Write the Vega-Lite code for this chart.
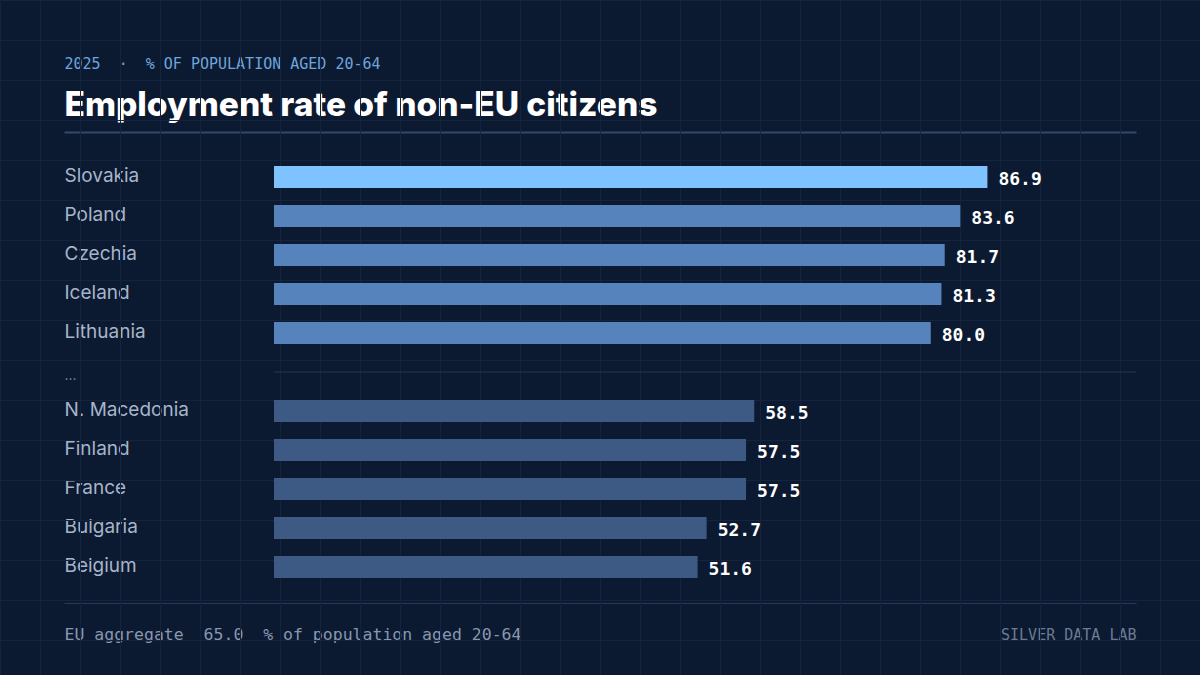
{
  "$schema": "https://vega.github.io/schema/vega-lite/v6.json",
  "width": 1072,
  "height": 471,
  "autosize": {"type": "none"},
  "padding": {"left": 64, "top": 132, "right": 64, "bottom": 72},
  "background": "#0c1a31",
  "config": {
    "view": {"stroke": null},
    "axis": {"grid": false, "labels": false, "ticks": false, "domain": false}
  },
  "datasets": {
    "rates": [
      {"country": "Slovakia", "rate": 86.9, "tier": "highest"},
      {"country": "Poland", "rate": 83.6, "tier": "top five"},
      {"country": "Czechia", "rate": 81.7, "tier": "top five"},
      {"country": "Iceland", "rate": 81.3, "tier": "top five"},
      {"country": "Lithuania", "rate": 80.0, "tier": "top five"},
      {"country": "N. Macedonia", "rate": 58.5, "tier": "bottom five"},
      {"country": "Finland", "rate": 57.5, "tier": "bottom five"},
      {"country": "France", "rate": 57.5, "tier": "bottom five"},
      {"country": "Bulgaria", "rate": 52.7, "tier": "bottom five"},
      {"country": "Belgium", "rate": 51.6, "tier": "bottom five"}
    ],
    "gridX": [
      {"gx": 0}, {"gx": 40}, {"gx": 80}, {"gx": 120}, {"gx": 160}, {"gx": 200}, {"gx": 240}, {"gx": 280},
      {"gx": 320}, {"gx": 360}, {"gx": 400}, {"gx": 440}, {"gx": 480}, {"gx": 520}, {"gx": 560}, {"gx": 600},
      {"gx": 640}, {"gx": 680}, {"gx": 720}, {"gx": 760}, {"gx": 800}, {"gx": 840}, {"gx": 880}, {"gx": 920},
      {"gx": 960}, {"gx": 1000}, {"gx": 1040}, {"gx": 1080}, {"gx": 1120}, {"gx": 1160}
    ],
    "gridY": [
      {"gy": 0}, {"gy": 40}, {"gy": 80}, {"gy": 120}, {"gy": 160}, {"gy": 200}, {"gy": 240}, {"gy": 280},
      {"gy": 320}, {"gy": 360}, {"gy": 400}, {"gy": 440}, {"gy": 480}, {"gy": 520}, {"gy": 560}, {"gy": 600},
      {"gy": 640}
    ]
  },
  "layer": [
    {
      "layer": [
        {
          "data": {"name": "gridX"},
          "mark": {"type": "rule", "color": "#15243e", "strokeWidth": 1},
          "encoding": {
            "x": {"field": "gx", "type": "quantitative", "scale": {"domain": [0, 1200], "range": [-63.5, 1136.5], "nice": false, "zero": false}, "axis": null},
            "y": {"datum": 0, "type": "quantitative", "scale": {"domain": [0, 675], "range": [-131.5, 543.5], "nice": false, "zero": false}, "axis": null},
            "y2": {"datum": 675}
          }
        },
        {
          "data": {"name": "gridY"},
          "mark": {"type": "rule", "color": "#15243e", "strokeWidth": 1},
          "encoding": {
            "y": {"field": "gy", "type": "quantitative", "axis": null},
            "x": {"datum": 0, "type": "quantitative", "axis": null},
            "x2": {"datum": 1200}
          }
        }
      ]
    },
    {
      "data": {"name": "rates"},
      "layer": [
        {
          "mark": {"type": "bar"},
          "encoding": {
            "y": {
              "field": "country",
              "type": "nominal",
              "scale": {
                "domain": ["Slovakia", "Poland", "Czechia", "Iceland", "Lithuania", "...", "N. Macedonia", "Finland", "France", "Bulgaria", "Belgium"],
                "paddingInner": 0.436,
                "paddingOuter": 0.757,
                "align": 0.576
              },
              "axis": {
                "orient": "left",
                "title": null,
                "labels": true,
                "domain": false,
                "ticks": false,
                "grid": false,
                "labelPadding": 0,
                "labelAlign": "left",
                "labelBaseline": "middle",
                "labelOffset": {"condition": {"test": "datum.value === '...'", "value": 4}, "value": -1},
                "labelLimit": 220,
                "labelFont": "Inter",
                "labelFontSize": {"condition": {"test": "datum.value === '...'", "value": 14}, "value": 19},
                "labelColor": {"condition": {"test": "datum.value === '...'", "value": "#7b8aa3"}, "value": "#a7b5ca"}
              }
            },
            "x": {
              "field": "rate",
              "type": "quantitative",
              "scale": {"domain": [-25.58, 105], "nice": false, "zero": false},
              "axis": {
                "orient": "bottom",
                "domain": true,
                "domainColor": "#263959",
                "domainWidth": 1,
                "labels": false,
                "ticks": false,
                "grid": false,
                "title": "EU aggregate\u00a0\u00a065.0\u00a0\u00a0% of population aged 20-64",
                "titleAnchor": "start",
                "titleAlign": "left",
                "titleBaseline": "middle",
                "titleFont": "DejaVu Sans Mono",
                "titleFontSize": 16.5,
                "titleFontWeight": "normal",
                "titleColor": "#8797b0",
                "titlePadding": 31
              }
            },
            "x2": {"datum": 0},
            "color": {
              "field": "tier",
              "type": "nominal",
              "scale": {"domain": ["highest", "top five", "bottom five"], "range": ["#7ec3ff", "#5783bd", "#3d5a84"]},
              "legend": null
            }
          }
        },
        {
          "mark": {"type": "text", "align": "left", "baseline": "middle", "dx": 11, "dy": 3, "font": "DejaVu Sans Mono", "fontSize": 18, "fontWeight": "bold", "color": "#ffffff"},
          "encoding": {
            "y": {"field": "country", "type": "nominal"},
            "x": {"field": "rate", "type": "quantitative"},
            "text": {"field": "rate", "type": "quantitative", "format": ".1f"}
          }
        },
        {
          "data": {"values": [{}]},
          "mark": {"type": "rule", "color": "#253757", "strokeWidth": 1},
          "encoding": {
            "y": {"datum": "..."},
            "x": {"datum": 0},
            "x2": {"datum": 105}
          }
        }
      ]
    },
    {
      "data": {"values": [{}]},
      "mark": {"type": "rule", "opacity": 0},
      "encoding": {
        "x": {
          "datum": 0,
          "type": "quantitative",
          "scale": {"domain": [0, 1], "nice": false},
          "axis": {
            "orient": "top",
            "domain": true,
            "domainColor": "#33496f",
            "domainWidth": 2,
            "labels": false,
            "ticks": false,
            "grid": false,
            "title": "Employment rate of non-EU citizens",
            "titleAnchor": "start",
            "titleAlign": "left",
            "titleBaseline": "alphabetic",
            "titleFont": "Inter",
            "titleFontSize": 33.5,
            "titleFontWeight": 800,
            "titleColor": "#ffffff",
            "titlePadding": 17
          }
        }
      }
    },
    {
      "data": {"values": [{}]},
      "mark": {"type": "rule", "opacity": 0},
      "encoding": {
        "x": {
          "datum": 0,
          "type": "quantitative",
          "scale": {"domain": [0, 1], "nice": false},
          "axis": {
            "orient": "top",
            "domain": false,
            "labels": false,
            "ticks": false,
            "grid": false,
            "title": "2025\u00a0\u00a0·\u00a0\u00a0% OF POPULATION AGED 20-64",
            "titleAnchor": "start",
            "titleAlign": "left",
            "titleBaseline": "middle",
            "titleFont": "DejaVu Sans Mono",
            "titleFontSize": 15,
            "titleFontWeight": "normal",
            "titleColor": "#6ea5dc",
            "titlePadding": 69
          }
        }
      }
    },
    {
      "data": {"values": [{}]},
      "mark": {"type": "rule", "opacity": 0},
      "encoding": {
        "x": {
          "datum": 0,
          "type": "quantitative",
          "scale": {"domain": [0, 1], "nice": false},
          "axis": {
            "orient": "bottom",
            "domain": false,
            "labels": false,
            "ticks": false,
            "grid": false,
            "title": "SILVER DATA LAB",
            "titleAnchor": "end",
            "titleAlign": "right",
            "titleBaseline": "middle",
            "titleFont": "DejaVu Sans Mono",
            "titleFontSize": 15,
            "titleFontWeight": "normal",
            "titleColor": "#6b7b95",
            "titlePadding": 31
          }
        }
      }
    }
  ],
  "resolve": {
    "scale": {"x": "independent", "y": "independent", "color": "independent"},
    "axis": {"x": "independent", "y": "independent"}
  }
}
